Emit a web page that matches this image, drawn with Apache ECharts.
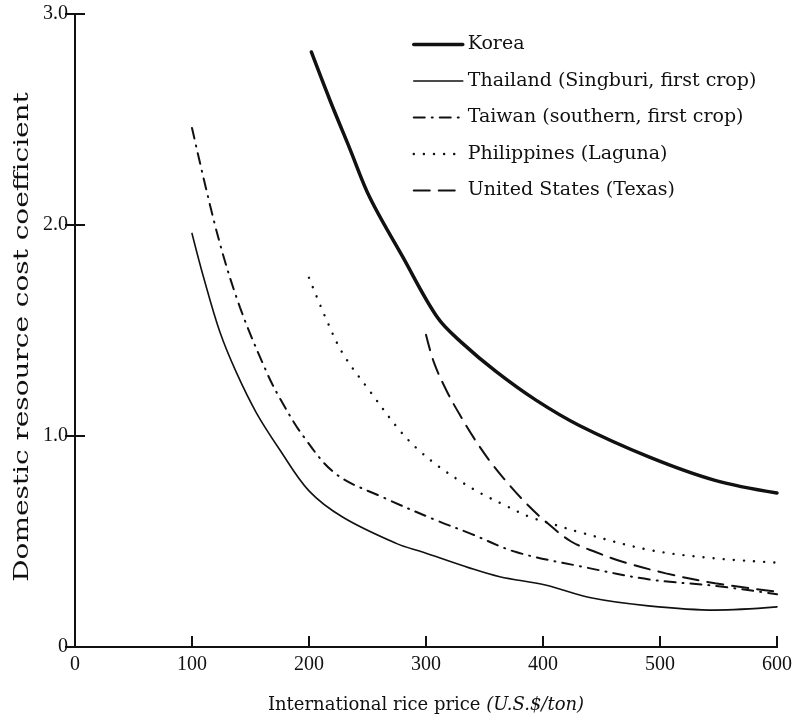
<!DOCTYPE html>
<html>
<head>
<meta charset="utf-8">
<script src="https://cdn.jsdelivr.net/npm/echarts@6/dist/echarts.min.js"></script>
<style>
  html, body { margin: 0; padding: 0; background: #fff; }
  #chart { width: 795px; height: 721px; }
</style>
</head>
<body>
<div id="chart"></div>
<script>
// values: [international price, DRC coefficient]
const korea = [[202, 2.82], [218, 2.59], [235, 2.36], [252, 2.13], [280, 1.85], [310, 1.56],
    [331, 1.44], [360, 1.305], [394, 1.17], [431, 1.05], [491, 0.90], [547, 0.79], [600, 0.73]];
const thailand = [[100, 1.96], [110, 1.75], [124, 1.49], [138, 1.30], [155, 1.11], [175, 0.935], [200, 0.74],
    [229, 0.615], [275, 0.49], [297, 0.45], [337, 0.375], [363, 0.333], [402, 0.294], [442, 0.232],
    [490, 0.195], [547, 0.175], [600, 0.19]];
const taiwan = [[100, 2.46], [122, 1.95], [141, 1.61], [164, 1.30], [175, 1.18], [195, 1.0], [223, 0.82],
    [263, 0.71], [309, 0.60], [337, 0.54], [377, 0.45], [434, 0.38], [491, 0.32], [547, 0.29], [600, 0.25]];
const philippines = [[200, 1.75], [215, 1.55], [229, 1.39], [251, 1.22], [277, 1.03], [293, 0.937],
    [311, 0.855], [331, 0.78], [348, 0.725], [367, 0.673], [388, 0.618], [408, 0.583], [434, 0.54],
    [491, 0.46], [547, 0.42], [600, 0.40]];
const unitedStates = [[300, 1.48], [307, 1.345], [318, 1.21], [330, 1.09], [341, 0.99], [355, 0.878],
    [370, 0.776], [387, 0.673], [404, 0.586], [424, 0.50], [445, 0.45], [468, 0.404], [505, 0.349],
    [547, 0.302], [600, 0.262]];

const seriesNames = ['Korea', 'Thailand (Singburi, first crop)', 'Taiwan (southern, first crop)',
    'Philippines (Laguna)', 'United States (Texas)'];
const xTitle = '{a|International rice price }{b|(U.S.$/ton)}';
const yTitle = 'Domestic resource cost coefficient';

const serif = '"Liberation Serif", "DejaVu Serif", serif';
const wideSerif = '"DejaVu Serif", serif';
const ink = '#111';

const lineStyles = [
    { width: 3.5 },
    { width: 1.6 },
    { width: 2, type: [11, 7, 1, 7] },
    { width: 2.4, type: [0.1, 10] },
    { width: 2, type: [16, 9] }
];

const makeLine = (name, data, lineStyle) => ({
    name,
    type: 'line',
    data,
    smooth: 0.35,
    symbol: 'none',
    lineStyle: Object.assign({ color: ink, cap: 'round' }, lineStyle),
    itemStyle: { color: ink }
});

const chart = echarts.init(document.getElementById('chart'));

const option = {
    animation: false,
    backgroundColor: '#fff',
    textStyle: { fontFamily: serif, color: ink },
    grid: { left: 75, right: 17, top: 14, bottom: 74 },
    legend: {
        orient: 'vertical',
        left: 412,
        top: 35,
        padding: 0,
        itemWidth: 49,
        itemHeight: 14,
        itemGap: 17.5,
        data: seriesNames.map((name, i) => ({
            name,
            lineStyle: Object.assign({ color: ink }, lineStyles[i])
        })),
        itemStyle: { opacity: 0 },
        textStyle: { fontFamily: wideSerif, fontSize: 19, color: ink }
    },
    graphic: [{
        type: 'text',
        x: 23,
        y: 337,
        rotation: Math.PI / 2,
        scaleX: 1.33,
        style: {
            text: yTitle,
            font: '21px "DejaVu Serif", serif',
            fill: ink,
            align: 'center',
            verticalAlign: 'middle'
        }
    }],
    xAxis: [{
        type: 'value',
        min: 0,
        max: 600,
        interval: 100,
        name: xTitle,
        nameLocation: 'middle',
        nameGap: 49,
        nameTextStyle: {
            rich: {
                a: { fontFamily: wideSerif, fontSize: 18, color: ink },
                b: { fontFamily: wideSerif, fontSize: 18, fontStyle: 'italic', color: ink }
            }
        },
        axisLine: { lineStyle: { color: ink, width: 2 } },
        axisTick: { inside: true, length: 11, lineStyle: { color: ink, width: 2 } },
        axisLabel: { fontFamily: serif, fontSize: 20, color: ink, margin: 8 },
        splitLine: { show: false }
    }, {
        type: 'value',
        position: 'top',
        min: 0,
        max: 600,
        axisLine: { show: true, lineStyle: { color: ink, width: 2 } },
        axisTick: { show: false },
        axisLabel: { show: false },
        splitLine: { show: false }
    }],
    yAxis: [{
        type: 'value',
        min: 0,
        max: 3,
        interval: 1,
        axisLine: { show: true, lineStyle: { color: ink, width: 2 } },
        axisTick: { inside: true, length: 10, lineStyle: { color: ink, width: 2 } },
        axisLabel: {
            fontFamily: serif, fontSize: 20, color: ink, margin: 7,
            formatter: v => (v === 0 ? '0' : v.toFixed(1))
        },
        splitLine: { show: false }
    }, {
        type: 'value',
        position: 'right',
        min: 0,
        max: 3,
        interval: 1,
        axisLine: { show: true, lineStyle: { color: ink, width: 2 } },
        axisTick: { inside: true, length: 10, lineStyle: { color: ink, width: 2 } },
        axisLabel: { show: false },
        splitLine: { show: false }
    }],
    series: [
        makeLine(seriesNames[0], korea, lineStyles[0]),
        makeLine(seriesNames[1], thailand, lineStyles[1]),
        makeLine(seriesNames[2], taiwan, lineStyles[2]),
        makeLine(seriesNames[3], philippines, lineStyles[3]),
        makeLine(seriesNames[4], unitedStates, lineStyles[4])
    ]
};

chart.setOption(option);
</script>
</body>
</html>
